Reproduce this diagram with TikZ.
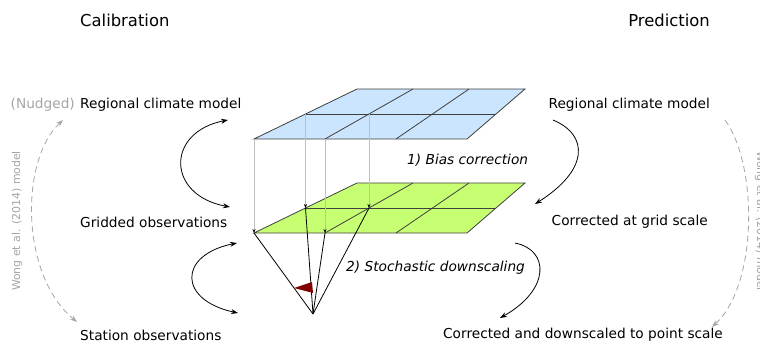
\documentclass[tikz,border=0pt]{standalone}
\usepackage{fontspec}
\setmainfont{DejaVu Sans}
\usetikzlibrary{
  arrows.meta,
  calc,
  positioning
}
\definecolor{rcmblue}{RGB}{204,229,255}
\definecolor{obsgreen}{RGB}{198,255,114}
\definecolor{flagred}{RGB}{128,0,0}
\definecolor{wonggray}{RGB}{165,165,165}
\tikzset{
  lbl/.style = {inner sep=0pt, font=\fontsize{13.7}{16}\selectfont},
  head/.style = {inner sep=0pt, font=\fontsize{16.4}{19}\selectfont},
  stagelbl/.style = {inner sep=0pt, font=\fontsize{13.7}{16}\selectfont\itshape},
  wonglbl/.style = {inner sep=0pt, text=wonggray, font=\fontsize{10.9}{13}\selectfont},
  cell/.style = {draw=black!75, line width=0.8pt},
  proj/.style = {draw=black!25, line width=0.5pt, -{Stealth[black,length=4pt,width=3pt]}},
  ray/.style = {draw=black, line width=0.8pt},
  swap/.style = {line width=0.8pt, {Stealth[length=7pt,width=5pt]}-{Stealth[length=7pt,width=5pt]}},
  oneway/.style = {line width=0.8pt, -{Stealth[length=7pt,width=5pt]}},
  wong/.style = {draw=wonggray, line width=0.8pt, dash pattern=on 6pt off 4pt},
}
\begin{document}
\begin{tikzpicture}[x=1pt, y=-1pt]
  \useasboundingbox (0,0) rectangle (760,343);

  % the two grids
  \coordinate (bTL) at (357,89);
  \coordinate (bTR) at (525,89);
  \coordinate (bBR) at (467,139);
  \coordinate (bBL) at (254,139);
  \coordinate (gTL) at (357,183);
  \coordinate (gTR) at (525,183);
  \coordinate (gBR) at (467,233);
  \coordinate (gBL) at (254,233);
  \coordinate (apex) at (313,314);

  \foreach \g/\col in {b/rcmblue, g/obsgreen} {
    \draw[cell, fill=\col] (\g TL) -- (\g TR) -- (\g BR) -- (\g BL) -- cycle;
    \draw[cell] ($(\g TL)!.5!(\g BL)$) -- ($(\g TR)!.5!(\g BR)$);
    \draw[cell] ($(\g TL)!1/3!(\g TR)$) -- ($(\g BL)!1/3!(\g BR)$);
    \draw[cell] ($(\g TL)!2/3!(\g TR)$) -- ($(\g BL)!2/3!(\g BR)$);
    \coordinate (\g 1) at (\g BL);
    \coordinate (\g 2) at ($(\g TL)!.5!(\g BL)$);
    \coordinate (\g 3) at ($(\g BL)!1/3!(\g BR)$);
    \coordinate (\g 4) at ($($(\g TL)!1/3!(\g TR)$)!.5!(\g 3)$);
  }

  \foreach \i in {1,...,4} {
    \draw[proj] (b\i) -- (g\i);
    \draw[ray] (g\i) -- (apex);
  }
  \fill[flagred] (294,288) -- (312,282) -- (313,293) -- cycle;

  % labels
  \node[head, anchor=west] (calib) at (80,20) {Calibration};
  \node[head, anchor=east] (pred) at (710,20) {Prediction};
  \node[lbl, anchor=west] (rcmL) at (80,105) {Regional climate model};
  \node[lbl, text=wonggray, left=5pt of rcmL] (nudged) {(Nudged)};
  \node[lbl, anchor=west] (gridL) at (80,222) {Gridded observations};
  \node[lbl, anchor=west] (statL) at (80,335) {Station observations};
  \node[lbl, anchor=east] (rcmR) at (710,105) {Regional climate model};
  \node[lbl, anchor=east] (corrR) at (708,222) {Corrected at grid scale};
  \node[lbl, anchor=east] (downR) at (723,335) {Corrected and downscaled to point scale};
  \node[stagelbl, anchor=west] (bias) at (407,160) {1) Bias correction};
  \node[stagelbl, anchor=west] (stoch) at (346,268) {2) Stochastic downscaling};
  \node[wonglbl, rotate=90] (wongL) at (17,221) {Wong et al. (2014) model};
  \node[wonglbl, rotate=-90] (wongR) at (760,221) {Wong et al. (2014) model};

  % arrow ends
  \coordinate (c1a) at (228,120);
  \coordinate (c1b) at (230,207);
  \coordinate (c2a) at (237,243);
  \coordinate (c2b) at (238,313);
  \coordinate (p1a) at (553,120);
  \coordinate (p1b) at (535,204);
  \coordinate (p2a) at (515,243);
  \coordinate (p2b) at (500,318);
  \coordinate (wLa) at (63,120);
  \coordinate (wLb) at (77,322);
  \coordinate (wRa) at (725,120);
  \coordinate (wRb) at (712,327);

  \draw[swap] (c1a) .. controls (166,132) and (166,195) .. (c1b);
  \draw[swap] (c2a) .. controls (178,255) and (178,300) .. (c2b);
  \draw[oneway] (p1a) .. controls (589,135) and (589,170) .. (p1b);
  \draw[oneway] (p2a) .. controls (550,250) and (550,290) .. (p2b);
  \draw[wong, {Stealth[wonggray,length=7pt,width=5pt]}-{Stealth[wonggray,length=7pt,width=5pt]}]
    (wLa) .. controls (20,160) and (20,275) .. (wLb);
  \draw[wong, -{Stealth[wonggray,length=7pt,width=5pt]}]
    (wRa) .. controls (758,165) and (758,285) .. (wRb);
\end{tikzpicture}
\end{document}
